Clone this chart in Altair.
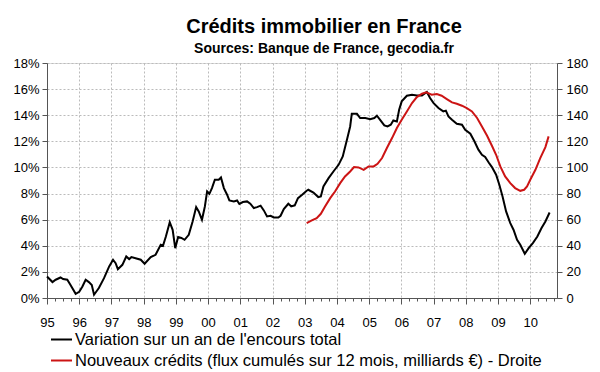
import altair as alt
import pandas as pd

# Black series: year-on-year change of total outstanding (%), left axis
black_years = [1995.00, 1995.17, 1995.27, 1995.42, 1995.50, 1995.63, 1995.73, 1995.89,
               1996.00, 1996.10, 1996.20, 1996.30, 1996.39, 1996.46, 1996.61, 1996.77, 1996.93,
               1997.05, 1997.13, 1997.20, 1997.34, 1997.46, 1997.55, 1997.62, 1997.75, 1997.91,
               1998.03, 1998.22, 1998.37, 1998.53, 1998.60, 1998.69, 1998.81, 1998.90, 1998.98,
               1999.07, 1999.17, 1999.27, 1999.40, 1999.52, 1999.63, 1999.71, 1999.81, 1999.90, 1999.97,
               2000.04, 2000.12, 2000.21, 2000.33, 2000.40, 2000.49, 2000.59, 2000.66, 2000.80, 2000.90, 2000.97,
               2001.08, 2001.21, 2001.31, 2001.42, 2001.52, 2001.63, 2001.73, 2001.83, 2001.94,
               2002.04, 2002.18, 2002.25, 2002.35, 2002.49, 2002.58, 2002.69, 2002.79, 2002.92,
               2003.05, 2003.11, 2003.27, 2003.42, 2003.50, 2003.58, 2003.74, 2003.89,
               2004.05, 2004.18, 2004.31, 2004.41, 2004.46, 2004.62, 2004.72, 2004.88,
               2005.03, 2005.16, 2005.24, 2005.34, 2005.47, 2005.57, 2005.67, 2005.75, 2005.86, 2005.93,
               2006.01, 2006.17, 2006.33, 2006.48, 2006.64, 2006.79, 2006.89,
               2007.00, 2007.15, 2007.30, 2007.38, 2007.46, 2007.57, 2007.72, 2007.88, 2007.98,
               2008.14, 2008.27, 2008.39, 2008.50, 2008.60, 2008.71, 2008.81, 2008.94,
               2009.04, 2009.14, 2009.25, 2009.38, 2009.48, 2009.59, 2009.69, 2009.83, 2009.95,
               2010.08, 2010.22, 2010.35, 2010.47, 2010.60]
black_values = [1.65, 1.22, 1.40, 1.57, 1.45, 1.40, 1.00, 0.32,
                0.47, 0.88, 1.40, 1.22, 1.00, 0.25, 0.76, 1.52, 2.42,
                2.93, 2.67, 2.21, 2.54, 3.18, 2.98, 3.13, 3.05, 2.93,
                2.62, 3.13, 3.31, 4.08, 4.00, 4.71, 5.81, 5.22, 3.82,
                4.67, 4.60, 4.46, 4.84, 5.86, 6.96, 6.63, 5.99, 7.01, 8.16,
                7.98, 8.42, 9.06, 9.06, 9.23, 8.42, 7.91, 7.47, 7.40, 7.47, 7.20,
                7.35, 7.40, 7.22, 6.89, 6.96, 7.07, 6.71, 6.25, 6.30,
                6.17, 6.17, 6.30, 6.81, 7.22, 7.02, 7.10, 7.65, 7.91,
                8.20, 8.29, 8.08, 7.73, 7.78, 8.54, 9.18, 9.69,
                10.20, 10.84, 12.12, 13.14, 14.11, 14.11, 13.78, 13.78,
                13.70, 13.78, 13.96, 13.65, 13.22, 13.14, 13.27, 13.60, 13.52, 14.42,
                15.06, 15.49, 15.57, 15.52, 15.52, 15.78, 15.32,
                14.93, 14.55, 14.29, 14.35, 13.91, 13.65, 13.35, 13.27, 12.89,
                12.58, 11.99, 11.36, 10.97, 10.80, 10.38, 10.03, 9.44,
                8.67, 7.78, 6.63, 5.74, 5.23, 4.46, 4.08, 3.39, 3.82,
                4.21, 4.71, 5.36, 5.86, 6.55]

# Red series: new loans (12-month cumulative flow, bn EUR), right axis
red_years = [2003.06, 2003.22, 2003.37, 2003.50, 2003.63, 2003.79, 2003.94,
             2004.10, 2004.25, 2004.41, 2004.53, 2004.67, 2004.83, 2004.98,
             2005.14, 2005.26, 2005.40, 2005.55, 2005.71, 2005.86,
             2006.01, 2006.17, 2006.33, 2006.48, 2006.64, 2006.77, 2006.94,
             2007.10, 2007.25, 2007.41, 2007.57, 2007.72, 2007.88,
             2008.03, 2008.19, 2008.35, 2008.50, 2008.66, 2008.81, 2008.94,
             2009.07, 2009.22, 2009.38, 2009.53, 2009.69, 2009.81, 2009.90,
             2010.00, 2010.16, 2010.31, 2010.47, 2010.57]
red_values = [57.4, 59.4, 61.2, 64.5, 70.1, 76.5, 81.6,
              88.0, 93.1, 96.9, 100.3, 100.0, 98.2, 100.8,
              100.8, 102.8, 107.2, 114.9, 122.5, 130.2,
              136.6, 142.9, 149.3, 153.9, 156.5, 157.5, 155.7,
              156.2, 154.9, 152.4, 149.8, 148.8, 147.3,
              145.5, 142.9, 137.9, 131.4, 124.3, 116.6, 109.7,
              100.8, 93.1, 88.0, 84.2, 82.1, 82.9, 85.4,
              90.6, 98.2, 107.2, 115.6, 123.8]

series_names = ["Variation sur un an de l'encours total",
                "Nouveaux crédits (flux cumulés sur 12 mois, milliards €) - Droite"]
series_colors = ["#000000", "#cc1414"]

left_ticks = [i / 100 for i in range(0, 19, 2)]
right_ticks = list(range(0, 181, 20))
x_ticks = [y + q * 0.25 for y in range(1995, 2011) for q in range(4)]
x_ticks = [v for v in x_ticks if v <= 2010.8]

df_black = pd.DataFrame({"t": black_years, "v": [v / 100 for v in black_values],
                         "s": series_names[0]})
df_red = pd.DataFrame({"t": red_years, "v": red_values, "s": series_names[1]})

FONT = "Liberation Sans"
x_dom = [1995, 2010.83]

color = alt.Color("s:N", scale=alt.Scale(domain=series_names, range=series_colors),
                  legend=alt.Legend(title=None, orient="none", legendX=3, legendY=265,
                                    direction="vertical", symbolType="stroke",
                                    symbolSize=441, symbolStrokeWidth=2,
                                    labelFontSize=16.5, labelFont=FONT, labelColor="#000",
                                    labelLimit=600, rowPadding=1, symbolOffset=0,
                                    labelOffset=2))

x_axis = alt.Axis(title=None, values=x_ticks,
                  labelExpr="datum.value % 1 === 0 ? substring(toString(datum.value), 2) : ''",
                  labelOverlap=False, labelFlush=False, labelPadding=12,
                  labelFontSize=13, labelFont=FONT, labelColor="#000",
                  tickSize={"condition": {"test": "datum.value % 1 === 0", "value": 6}, "value": 3},
                  tickColor="#555", domainColor="#555",
                  grid=True, gridDash=[2, 2], gridColor="#bbbbbb",
                  gridOpacity={"condition": {"test": "datum.value % 1 === 0", "value": 1}, "value": 0})
x_scale = alt.Scale(domain=x_dom, nice=False, zero=False)

black = alt.Chart(df_black).mark_line(strokeWidth=2, interpolate="linear").encode(
    x=alt.X("t:Q", scale=x_scale, axis=x_axis),
    y=alt.Y("v:Q", scale=alt.Scale(domain=[0, 0.18], nice=False),
            axis=alt.Axis(title=None, values=left_ticks, format=".0%", orient="left",
                          labelFontSize=13, labelFont=FONT, labelColor="#000",
                          tickSize=5, tickColor="#555", domainColor="#555",
                          grid=True, gridDash=[2, 2], gridColor="#bbbbbb", labelPadding=3)),
    color=color,
)

red = alt.Chart(df_red).mark_line(strokeWidth=2, interpolate="linear").encode(
    x=alt.X("t:Q", scale=x_scale, axis=x_axis),
    y=alt.Y("v:Q", scale=alt.Scale(domain=[0, 180], nice=False),
            axis=alt.Axis(title=None, values=right_ticks, orient="right",
                          labelFontSize=13, labelFont=FONT, labelColor="#000",
                          tickSize=5, tickColor="#555", domainColor="#555",
                          grid=False, labelPadding=4)),
    color=color,
)

chart = alt.layer(black, red).resolve_scale(y="independent").properties(
    width=510, height=235,
    autosize=alt.AutoSizeParams(type="none"),
    padding={"left": 39, "top": 55, "right": 35, "bottom": 72},
    title=alt.TitleParams(text="Crédits immobilier en France",
                          subtitle="Sources: Banque de France, gecodia.fr",
                          anchor="middle", dx=22, offset=1,
                          font=FONT, fontSize=20, fontWeight="bold", color="#000",
                          subtitleFont=FONT, subtitleFontSize=14, subtitleFontWeight="bold",
                          subtitleColor="#000", subtitlePadding=5),
).configure_view(stroke="#999999", strokeWidth=1).configure(background="white")

chart.save("out.html", embed_options={"renderer": "svg", "actions": False})
